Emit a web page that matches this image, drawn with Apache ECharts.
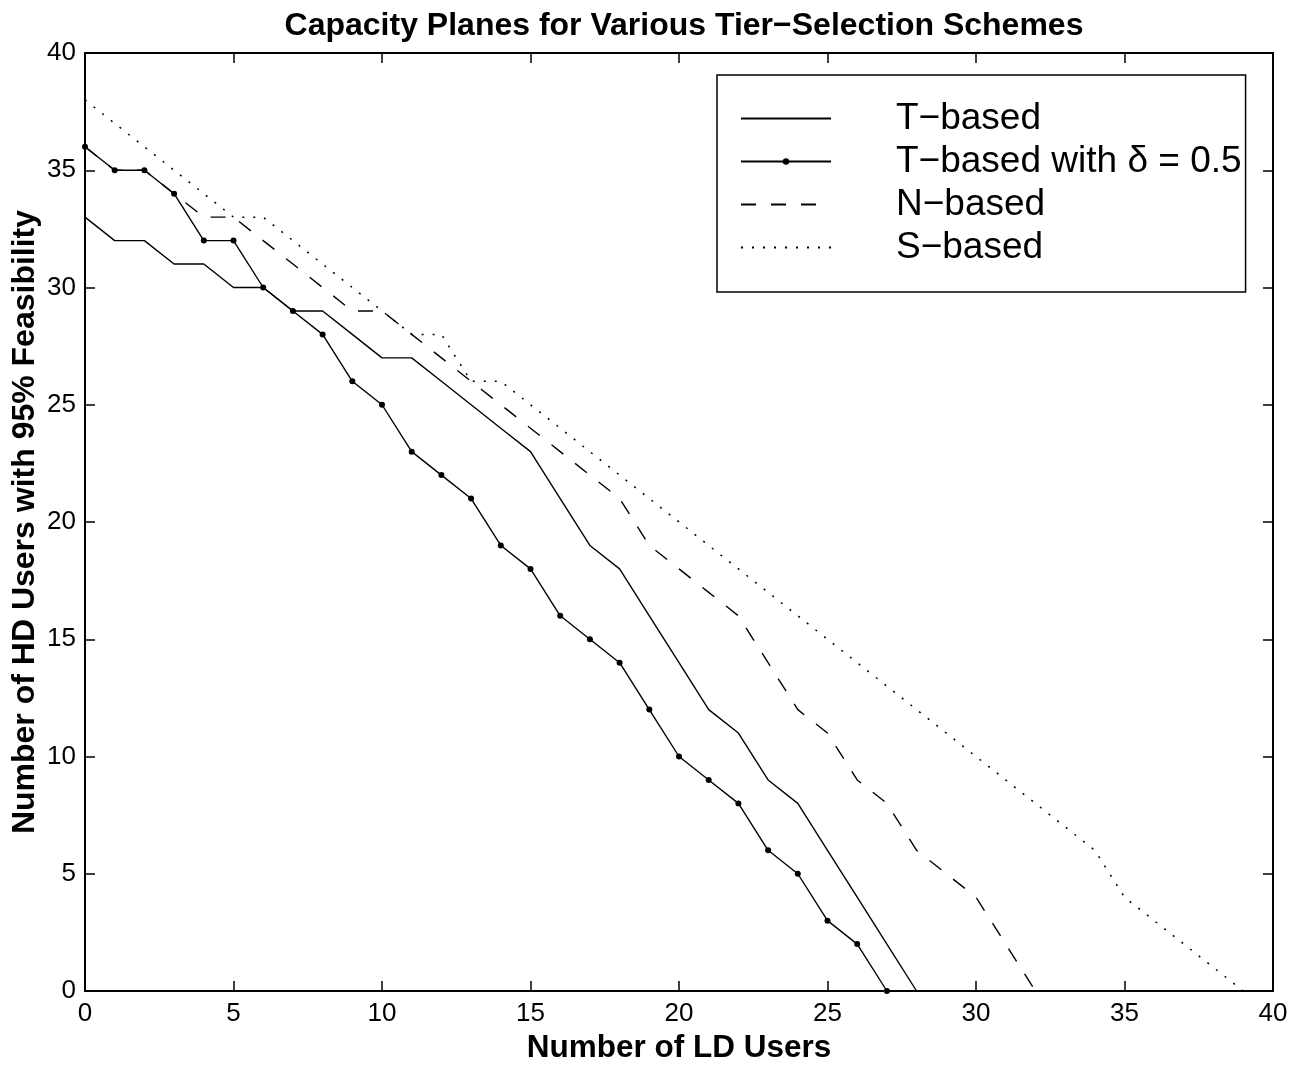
<!DOCTYPE html>
<html style="height: 100%">
   <head>
       <meta charset="utf-8">
   </head>
   <body style="height: 100%; margin: 0; background: #fff">
       <div id="container" style="width: 1301px; height: 1067px"></div>
       <script type="text/javascript" src="https://cdn.jsdelivr.net/npm/echarts/dist/echarts.min.js"></script>
       <script type="text/javascript">
// values, index = number of LD users
var tBased = [33, 32, 32, 31, 31, 30, 30, 29, 29, 28, 27, 27, 26, 25, 24, 23, 21, 19, 18, 16, 14, 12, 11, 9, 8, 6, 4, 2, 0];
var tDelta = [36, 35, 35, 34, 32, 32, 30, 29, 28, 26, 25, 23, 22, 21, 19, 18, 16, 15, 14, 12, 10, 9, 8, 6, 5, 3, 2, 0];
var nBased = [36, 35, 35, 34, 33, 33, 32, 31, 30, 29, 29, 28, 27, 26, 25, 24, 23, 22, 21, 19, 18, 17, 16, 14, 12, 11, 9, 8, 6, 5, 4, 2, 0];
var sBased = [38, 37, 36, 35, 34, 33, 33, 32, 31, 30, 29, 28, 28, 26, 26, 25, 24, 23, 22, 21, 20, 19, 18, 17, 16, 15, 14, 13, 12, 11, 10, 9, 8, 7, 6, 4, 3, 2, 1, 0];
var seriesNames = ['T\u2212based', 'T\u2212based with \u03b4 = 0.5', 'N\u2212based', 'S\u2212based'];

var dom = document.getElementById("container");
var myChart = echarts.init(dom);
var font = 'Liberation Sans, Arial, Helvetica, sans-serif';

function toPoints(arr) {
    return arr.map(function (v, i) { return [i, v]; });
}

// legend entries without a marker get an invisible one
var noDot = {color: 'rgba(0,0,0,0)', borderColor: 'rgba(0,0,0,0)', borderWidth: 0};

var tickStyle = {show: true, inside: true, length: 10, lineStyle: {color: '#000', width: 1.5}};
var lineAxis = {show: true, onZero: false, lineStyle: {color: '#000', width: 2}};

option = {
    backgroundColor: '#fff',
    animation: false,
    title: {
        text: 'Capacity Planes for Various Tier\u2212Selection Schemes',
        left: 679,
        textAlign: 'center',
        top: 5,
        textStyle: {fontFamily: font, fontSize: 32, fontWeight: 'bold', color: '#000'}
    },
    grid: {left: 85, right: 28, top: 53, bottom: 76, outerBoundsMode: 'none'},
    legend: {
        orient: 'vertical',
        left: 717,
        top: 75,
        padding: [25, 4, 26, 23],
        itemGap: 6,
        itemWidth: 90,
        itemHeight: 8,
        borderColor: '#000',
        borderWidth: 1.5,
        data: [
            {name: seriesNames[0], itemStyle: noDot},
            {name: seriesNames[1]},
            {name: seriesNames[2], itemStyle: noDot},
            {name: seriesNames[3], itemStyle: noDot}
        ],
        textStyle: {fontFamily: font, fontSize: 37, color: '#000', padding: [0, 0, 0, 60]}
    },
    xAxis: [{
        type: 'value',
        min: 0, max: 40, interval: 5,
        name: 'Number of LD Users',
        nameLocation: 'middle',
        nameGap: 36,
        nameTextStyle: {fontFamily: font, fontSize: 31.5, fontWeight: 'bold', color: '#000'},
        axisLine: lineAxis,
        axisTick: tickStyle,
        axisLabel: {fontFamily: font, fontSize: 26, color: '#000', margin: 10},
        splitLine: {show: false}
    }, {
        type: 'value',
        position: 'top',
        min: 0, max: 40, interval: 5,
        axisLine: lineAxis,
        axisTick: tickStyle,
        axisLabel: {show: false},
        splitLine: {show: false}
    }],
    yAxis: [{
        type: 'value',
        min: 0, max: 40, interval: 5,
        name: 'Number of HD Users with 95% Feasibility',
        nameLocation: 'middle',
        nameGap: 44,
        nameMoveOverlap: false,
        nameTextStyle: {fontFamily: font, fontSize: 32, fontWeight: 'bold', color: '#000'},
        axisLine: lineAxis,
        axisTick: tickStyle,
        axisLabel: {fontFamily: font, fontSize: 26, color: '#000', margin: 9},
        splitLine: {show: false}
    }, {
        type: 'value',
        position: 'right',
        min: 0, max: 40, interval: 5,
        axisLine: lineAxis,
        axisTick: tickStyle,
        axisLabel: {show: false},
        splitLine: {show: false}
    }],
    series: [
        {
            name: seriesNames[0],
            type: 'line',
            symbol: 'none',
            lineStyle: {color: '#000', width: 1.4},
            itemStyle: {color: '#000'},
            data: toPoints(tBased)
        },
        {
            name: seriesNames[1],
            type: 'line',
            symbol: 'circle',
            symbolSize: 6,
            lineStyle: {color: '#000', width: 1.4},
            itemStyle: {color: '#000'},
            data: toPoints(tDelta)
        },
        {
            name: seriesNames[2],
            type: 'line',
            symbol: 'none',
            lineStyle: {color: '#000', width: 1.4, type: [15, 15]},
            itemStyle: {color: '#000'},
            data: toPoints(nBased)
        },
        {
            name: seriesNames[3],
            type: 'line',
            symbol: 'none',
            lineStyle: {color: '#000', width: 1.5, type: [2, 9]},
            itemStyle: {color: '#000'},
            data: toPoints(sBased)
        }
    ]
};

if (option && typeof option === "object") {
    myChart.setOption(option, true);
}
       </script>
   </body>
</html>
